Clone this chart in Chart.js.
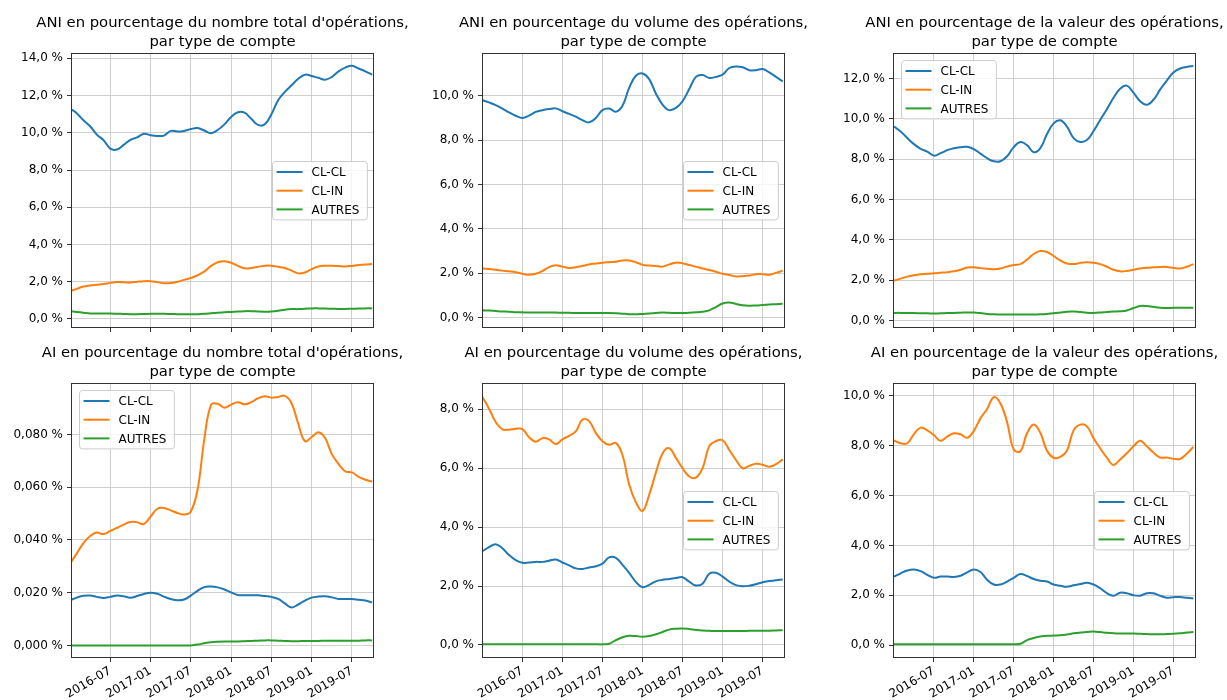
<!DOCTYPE html>
<html>
<head>
<meta charset="utf-8">
<script src="https://cdn.jsdelivr.net/npm/chart.js@4.4.1/dist/chart.umd.min.js"></script>
<style>
  html, body { margin: 0; padding: 0; background: #fff; overflow: hidden; }
  canvas { position: absolute; }
</style>
</head>
<body>
<canvas id="c1"></canvas>
<canvas id="c2"></canvas>
<canvas id="c3"></canvas>
<canvas id="c4"></canvas>
<canvas id="c5"></canvas>
<canvas id="c6"></canvas>
<script>
// monthly points, index = month since 2016-01
const months = ['2016-01','2016-02','2016-03','2016-04','2016-05','2016-06','2016-07','2016-08','2016-09','2016-10','2016-11','2016-12',
  '2017-01','2017-02','2017-03','2017-04','2017-05','2017-06','2017-07','2017-08','2017-09','2017-10','2017-11','2017-12',
  '2018-01','2018-02','2018-03','2018-04','2018-05','2018-06','2018-07','2018-08','2018-09','2018-10','2018-11','2018-12',
  '2019-01','2019-02','2019-03','2019-04','2019-05','2019-06','2019-07','2019-08','2019-09','2019-10'];
const xTickLabels = ['2016-07','2017-01','2017-07','2018-01','2018-07','2019-01','2019-07'];
const seriesNames = ['CL-CL', 'CL-IN', 'AUTRES'];

// ANI - nombre
const aniNombreClCl = [11.3,11.05,10.67,10.35,9.9,9.6,9.15,9.1,9.35,9.62,9.75,9.95,9.87,9.83,9.85,10.1,10.07,10.1,10.2,10.25,
  10.12,9.98,10.15,10.45,10.85,11.1,11.08,10.75,10.42,10.45,11.0,11.75,12.2,12.55,12.9,13.12,13.05,12.95,12.85,13.0,
  13.3,13.5,13.6,13.45,13.3,13.12];
const aniNombreClIn = [1.5,1.62,1.74,1.8,1.84,1.88,1.94,1.98,1.97,1.96,2.0,2.03,2.03,1.98,1.92,1.93,2.0,2.1,2.2,2.35,
  2.55,2.85,3.05,3.1,3.02,2.85,2.72,2.74,2.8,2.86,2.86,2.8,2.74,2.6,2.45,2.5,2.68,2.82,2.86,2.86,
  2.84,2.82,2.85,2.9,2.92,2.95];
const aniNombreAutres = [0.42,0.38,0.34,0.3,0.29,0.29,0.29,0.28,0.27,0.26,0.26,0.27,0.28,0.28,0.28,0.27,0.26,0.25,0.25,0.26,
  0.28,0.31,0.34,0.36,0.38,0.4,0.42,0.42,0.4,0.39,0.4,0.44,0.5,0.53,0.53,0.55,0.57,0.57,0.56,0.55,
  0.54,0.54,0.55,0.56,0.57,0.57];

// ANI - volume
const aniVolumeClCl = [9.8,9.7,9.58,9.42,9.25,9.1,9.0,9.1,9.27,9.35,9.4,9.43,9.3,9.18,9.06,8.9,8.8,9.0,9.35,9.42,
  9.28,9.55,10.35,10.9,11.0,10.75,10.1,9.6,9.35,9.45,9.75,10.3,10.85,10.93,10.8,10.85,10.95,11.25,11.32,11.28,
  11.15,11.15,11.2,11.05,10.85,10.65];
const aniVolumeClIn = [2.22,2.19,2.16,2.12,2.09,2.05,1.98,1.93,1.98,2.1,2.28,2.36,2.3,2.24,2.27,2.33,2.4,2.44,2.48,2.5,
  2.52,2.58,2.58,2.5,2.38,2.35,2.33,2.3,2.4,2.48,2.45,2.37,2.3,2.22,2.15,2.07,1.98,1.92,1.86,1.87,
  1.9,1.96,1.96,1.93,2.02,2.12];
const aniVolumeAutres = [0.33,0.32,0.3,0.28,0.27,0.25,0.24,0.23,0.23,0.23,0.23,0.23,0.22,0.22,0.21,0.21,0.21,0.21,0.21,0.21,
  0.2,0.18,0.16,0.15,0.17,0.19,0.21,0.23,0.22,0.21,0.21,0.22,0.24,0.27,0.33,0.48,0.64,0.68,0.62,0.56,
  0.54,0.55,0.57,0.59,0.61,0.63];

// ANI - valeur
const aniValeurClCl = [9.62,9.38,9.05,8.75,8.52,8.38,8.18,8.3,8.45,8.55,8.6,8.62,8.5,8.28,8.05,7.9,7.9,8.15,8.6,8.85,
  8.7,8.35,8.55,9.25,9.78,9.93,9.62,9.05,8.86,8.95,9.4,9.95,10.48,11.05,11.5,11.65,11.3,10.88,10.7,10.95,
  11.45,11.9,12.3,12.5,12.58,12.62];
const aniValeurClIn = [1.98,2.08,2.18,2.25,2.3,2.32,2.34,2.37,2.4,2.44,2.52,2.63,2.64,2.6,2.57,2.54,2.58,2.68,2.76,2.8,
  3.02,3.3,3.45,3.4,3.2,2.98,2.83,2.8,2.86,2.89,2.87,2.8,2.67,2.52,2.44,2.46,2.52,2.58,2.62,2.64,
  2.66,2.66,2.62,2.58,2.67,2.8];
const aniValeurAutres = [0.38,0.38,0.37,0.37,0.36,0.36,0.35,0.36,0.37,0.38,0.39,0.4,0.4,0.37,0.33,0.31,0.3,0.3,0.3,0.3,
  0.3,0.3,0.31,0.33,0.36,0.4,0.44,0.45,0.42,0.39,0.38,0.4,0.43,0.45,0.46,0.5,0.62,0.72,0.72,0.68,
  0.64,0.62,0.63,0.64,0.64,0.64];

// AI - nombre
const aiNombreClCl = [0.0171,0.0181,0.0188,0.0189,0.0184,0.018,0.0184,0.0189,0.0186,0.0181,0.0187,0.0195,0.02,0.0196,0.0185,0.0176,0.0171,0.0174,0.0189,0.0207,
  0.0221,0.0223,0.022,0.0212,0.0201,0.0191,0.019,0.019,0.019,0.0187,0.0184,0.0176,0.0159,0.0144,0.0155,0.017,0.0181,0.0185,0.0186,0.0182,
  0.0176,0.0176,0.0176,0.0173,0.017,0.0163];
const aiNombreClIn = [0.031,0.0348,0.0388,0.0415,0.0428,0.0422,0.0434,0.0446,0.0458,0.0468,0.0467,0.046,0.0488,0.0518,0.0521,0.0512,0.0502,0.0496,0.0508,0.059,
  0.078,0.0912,0.0916,0.0901,0.0913,0.0922,0.0914,0.0922,0.0937,0.0945,0.0939,0.0942,0.0946,0.0918,0.084,0.0774,0.079,0.0808,0.0786,0.0725,
  0.0688,0.066,0.0656,0.0639,0.0628,0.0621];
const aiNombreAutres = [0,0,0,0,0,0,0,0,0,0,0,0,0,0,0,0,0,0,0,0.0003,
  0.0008,0.0012,0.0014,0.0015,0.0015,0.0015,0.0016,0.0017,0.0018,0.0019,0.0019,0.0018,0.0017,0.0016,0.0016,0.0017,0.0017,0.0017,0.0018,0.0018,
  0.0018,0.0018,0.0018,0.0018,0.0019,0.0019];

// AI - volume
const aiVolumeClCl = [3.18,3.32,3.42,3.28,3.05,2.88,2.79,2.8,2.82,2.82,2.86,2.9,2.8,2.7,2.6,2.58,2.63,2.67,2.76,2.97,
  2.96,2.72,2.45,2.14,1.96,2.04,2.16,2.21,2.24,2.27,2.3,2.15,2.02,2.08,2.42,2.45,2.32,2.15,2.03,1.99,
  2.01,2.06,2.13,2.17,2.2,2.22];
const aiVolumeClIn = [8.43,8.02,7.57,7.32,7.31,7.34,7.33,7.05,6.9,7.02,6.98,6.82,6.98,7.1,7.25,7.65,7.6,7.2,6.92,6.8,
  6.86,6.45,5.45,4.85,4.55,5.1,5.85,6.5,6.68,6.35,6.0,5.72,5.68,6.0,6.75,6.92,6.95,6.62,6.28,6.0,
  6.08,6.15,6.12,6.05,6.14,6.3];
const aiVolumeAutres = [0.02,0.02,0.02,0.02,0.02,0.02,0.02,0.02,0.02,0.02,0.02,0.02,0.02,0.02,0.02,0.02,0.02,0.02,0.02,0.04,
  0.16,0.26,0.31,0.3,0.28,0.3,0.36,0.44,0.52,0.55,0.56,0.54,0.51,0.49,0.48,0.47,0.47,0.47,0.47,0.47,
  0.48,0.48,0.48,0.48,0.49,0.5];

// AI - valeur
const aiValeurClCl = [2.75,2.88,2.99,3.03,2.97,2.82,2.7,2.75,2.75,2.73,2.78,2.92,3.03,2.93,2.62,2.43,2.43,2.55,2.7,2.85,
  2.77,2.65,2.58,2.55,2.43,2.38,2.34,2.4,2.45,2.5,2.43,2.28,2.08,1.98,2.1,2.08,2.0,1.98,2.08,2.08,
  1.98,1.9,1.92,1.93,1.9,1.87];
const aiValeurClIn = [8.22,8.1,8.1,8.47,8.73,8.62,8.43,8.2,8.37,8.5,8.46,8.32,8.6,9.1,9.48,9.95,9.7,8.95,7.85,7.78,
  8.5,8.85,8.52,7.8,7.52,7.55,7.8,8.62,8.85,8.78,8.3,7.9,7.52,7.23,7.45,7.7,7.98,8.2,7.98,7.73,
  7.53,7.53,7.48,7.47,7.68,7.95];
const aiValeurAutres = [0.03,0.03,0.03,0.03,0.03,0.03,0.03,0.03,0.03,0.03,0.03,0.03,0.03,0.03,0.03,0.03,0.03,0.03,0.03,0.05,
  0.2,0.28,0.34,0.37,0.38,0.39,0.42,0.47,0.5,0.52,0.54,0.52,0.49,0.47,0.46,0.46,0.46,0.45,0.44,0.43,
  0.43,0.44,0.45,0.47,0.5,0.52];

const yTicksAniNombre = [0, 2, 4, 6, 8, 10, 12, 14];
const yTicksAniVolume = [0, 2, 4, 6, 8, 10];
const yTicksAniValeur = [0, 2, 4, 6, 8, 10, 12];
const yTicksAiNombre = [0, 0.02, 0.04, 0.06, 0.08];
const yTicksAiVolume = [0, 2, 4, 6, 8];
const yTicksAiValeur = [0, 2, 4, 6, 8, 10];

const colors = ['#1f77b4', '#ff7f0e', '#2ca02c'];
const FONT = 'DejaVu Sans';
Chart.defaults.font.family = FONT;

const pct = (v, dec) => v.toFixed(dec).replace('.', ',') + ' %';

// title centred over the axes
const axTitle = {
  id: 'axTitle',
  afterDraw(chart, args, opts) {
    const { ctx, chartArea: a } = chart;
    ctx.save();
    ctx.font = '14.8px "' + FONT + '"';
    ctx.fillStyle = '#000';
    ctx.textAlign = 'center';
    ctx.textBaseline = 'alphabetic';
    const cx = (a.left + a.right) / 2;
    ctx.fillText(opts.lines[0], cx, a.top - 27);
    ctx.fillText(opts.lines[1], cx, a.top - 8);
    ctx.restore();
  }
};

// matplotlib-like legend inside the axes
const innerLegend = {
  id: 'innerLegend',
  afterDraw(chart, args, opts) {
    const { ctx, chartArea: a } = chart;
    const items = chart.data.datasets;
    ctx.save();
    ctx.font = '12px "' + FONT + '"';
    const textW = Math.max(...items.map(d => ctx.measureText(d.label).width));
    const rowH = 18.7;
    const w = 4 + 26 + 9 + textW + 8;
    const h = 21 + rowH * (items.length - 1);
    let x, y;
    if (opts.loc === 'upper left') { x = a.left + 6.5; y = a.top + 6; }
    else { x = a.right - 6 - w; y = (a.top + a.bottom) / 2 - h / 2; }
    x = Math.round(x) + 0.5; y = Math.round(y) + 0.5;
    ctx.beginPath();
    ctx.roundRect(x, y, w, h, 3);
    ctx.fillStyle = 'rgba(255,255,255,0.8)';
    ctx.fill();
    ctx.strokeStyle = '#cccccc';
    ctx.lineWidth = 1;
    ctx.stroke();
    items.forEach((d, i) => {
      const cy = y + 10.5 + i * rowH;
      ctx.strokeStyle = d.borderColor;
      ctx.lineWidth = 2;
      ctx.beginPath();
      ctx.moveTo(x + 4, cy);
      ctx.lineTo(x + 30, cy);
      ctx.stroke();
      ctx.fillStyle = '#000';
      ctx.textAlign = 'left';
      ctx.textBaseline = 'middle';
      ctx.fillText(d.label, x + 39, cy + 1);
    });
    ctx.restore();
  }
};

// axes frame (all four spines)
const frame = {
  id: 'frame',
  afterDatasetsDraw(chart) {
    const { ctx, chartArea: a } = chart;
    ctx.save();
    ctx.strokeStyle = '#333';
    ctx.lineWidth = 1;
    ctx.strokeRect(Math.round(a.left) - 0.5, Math.round(a.top) - 0.5,
      Math.round(a.right - a.left) + 1, Math.round(a.bottom - a.top) + 1);
    ctx.restore();
  }
};

const PAD_TOP = 54, Y_AXIS_W = 72, PAD_R = 40;

function makeChart(id, cfg) {
  const canvas = document.getElementById(id);
  const xAxisH = cfg.showX ? 43 : 12;
  canvas.width = Y_AXIS_W + 301 + PAD_R;
  canvas.height = PAD_TOP + 273 + xAxisH;
  canvas.style.left = (cfg.plotLeft - Y_AXIS_W) + 'px';
  canvas.style.top = (cfg.plotTop - PAD_TOP) + 'px';

  new Chart(canvas, {
    type: 'line',
    data: {
      datasets: seriesNames.map((name, k) => ({
        label: name,
        data: cfg.series[k].map((v, i) => ({ x: i, y: v })),
        borderColor: colors[k],
        borderWidth: 2,
        pointRadius: 0,
        tension: 0.4,
        fill: false,
        clip: 0
      }))
    },
    options: {
      responsive: false,
      animation: false,
      events: [],
      layout: { padding: { left: 0, top: PAD_TOP, right: PAD_R, bottom: 0 } },
      plugins: {
        legend: { display: false },
        tooltip: { enabled: false },
        axTitle: { lines: cfg.title },
        innerLegend: { loc: cfg.legendLoc }
      },
      scales: {
        x: {
          type: 'linear',
          min: cfg.xMin,
          max: cfg.xMax,
          afterBuildTicks: axis => { axis.ticks = xTickLabels.map(l => ({ value: months.indexOf(l) })); },
          afterFit: axis => { axis.height = xAxisH; },
          border: { display: false },
          grid: { color: '#cfcfcf', tickColor: '#333', tickLength: 5, lineWidth: 1 },
          ticks: {
            display: cfg.showX,
            autoSkip: false,
            minRotation: 30,
            maxRotation: 30,
            padding: 2,
            color: '#000',
            font: { size: 12 },
            callback: v => months[v]
          }
        },
        y: {
          min: cfg.yMin,
          max: cfg.yMax,
          afterBuildTicks: axis => { axis.ticks = cfg.yTicks.map(v => ({ value: v })); },
          afterFit: axis => { axis.width = Y_AXIS_W; },
          border: { display: false },
          grid: { color: '#cfcfcf', tickColor: '#333', tickLength: 5, lineWidth: 1 },
          ticks: {
            padding: 4,
            color: '#000',
            font: { size: 12 },
            callback: v => pct(v, cfg.dec)
          }
        }
      }
    },
    plugins: [axTitle, innerLegend, frame]
  });
}

makeChart('c1', {
  plotLeft: 72, plotTop: 54, showX: false, xMin: 0.3, xMax: 45.13,
  yMin: -0.43, yMax: 14.23, yTicks: yTicksAniNombre, dec: 1, legendLoc: 'center right',
  title: ["ANI en pourcentage du nombre total d'opérations,", 'par type de compte'],
  series: [aniNombreClCl, aniNombreClIn, aniNombreAutres]
});
makeChart('c2', {
  plotLeft: 483, plotTop: 54, showX: false, xMin: 0.1, xMax: 45.2,
  yMin: -0.42, yMax: 11.88, yTicks: yTicksAniVolume, dec: 1, legendLoc: 'center right',
  title: ['ANI en pourcentage du volume des opérations,', 'par type de compte'],
  series: [aniVolumeClCl, aniVolumeClIn, aniVolumeAutres]
});
makeChart('c3', {
  plotLeft: 894, plotTop: 54, showX: false, xMin: 0, xMax: 45.25,
  yMin: -0.32, yMax: 13.22, yTicks: yTicksAniValeur, dec: 1, legendLoc: 'upper left',
  title: ['ANI en pourcentage de la valeur des opérations,', 'par type de compte'],
  series: [aniValeurClCl, aniValeurClIn, aniValeurAutres]
});
makeChart('c4', {
  plotLeft: 72, plotTop: 384, showX: true, xMin: 0.3, xMax: 45.13,
  yMin: -0.0044, yMax: 0.0991, yTicks: yTicksAiNombre, dec: 3, legendLoc: 'upper left',
  title: ["AI en pourcentage du nombre total d'opérations,", 'par type de compte'],
  series: [aiNombreClCl, aiNombreClIn, aiNombreAutres]
});
makeChart('c5', {
  plotLeft: 483, plotTop: 384, showX: true, xMin: 0.1, xMax: 45.2,
  yMin: -0.41, yMax: 8.86, yTicks: yTicksAiVolume, dec: 1, legendLoc: 'center right',
  title: ['AI en pourcentage du volume des opérations,', 'par type de compte'],
  series: [aiVolumeClCl, aiVolumeClIn, aiVolumeAutres]
});
makeChart('c6', {
  plotLeft: 894, plotTop: 384, showX: true, xMin: 0, xMax: 45.25,
  yMin: -0.48, yMax: 10.48, yTicks: yTicksAiValeur, dec: 1, legendLoc: 'center right',
  title: ['AI en pourcentage de la valeur des opérations,', 'par type de compte'],
  series: [aiValeurClCl, aiValeurClIn, aiValeurAutres]
});
</script>
</body>
</html>
